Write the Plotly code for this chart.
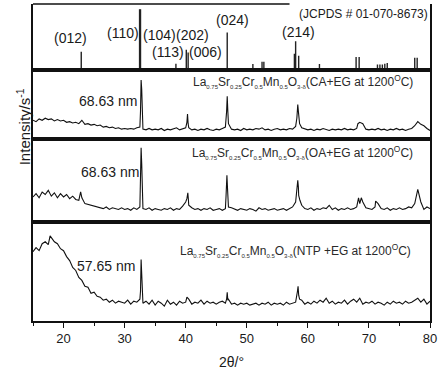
import numpy as np
import plotly.graph_objects as go
from plotly.subplots import make_subplots

# ---------------- data ----------------
# JCPDS # 01-070-8673 reference sticks (2theta, relative intensity 0-100)
jcpds_pos = [22.9, 32.45, 32.6, 38.4, 40.1, 40.4, 46.8, 51.0, 52.5, 52.8, 57.8, 58.0, 58.5,
             61.9, 67.9, 68.4, 71.4, 71.8, 72.2, 72.6, 73.0, 77.5, 77.9]
jcpds_int = [28, 92, 92, 10, 31, 27, 57, 9.5, 13, 13, 25, 44, 22,
             9.5, 20, 20, 9, 9, 9, 10, 11, 19, 19]

hkl_labels = ["(012)", "(110)", "(104)", "(202)", "(113)", "(006)", "(024)", "(214)"]
hkl_x = [21.2, 29.8, 35.65, 41.1, 37.1, 43.2, 47.7, 58.5]
hkl_y = [49, 57, 54, 54, 28, 28, 76, 58]

# background scan, 15-80 deg, 0.5 deg step
scan_x = [15 + 0.5 * i for i in range(131)]

ca_bg = [27, 25, 29, 27, 30, 28, 29, 26, 28, 26,
         27, 24, 25, 23, 24, 22, 27, 21, 22, 20,
         21, 19, 20, 17, 18, 16, 17, 15, 16, 14,
         15, 14, 15, 14, 16, 17, 14, 13, 15, 13,
         14, 13, 15, 12, 14, 13, 14, 16, 13, 14,
         16, 16, 13, 14, 12, 14, 13, 15, 13, 12,
         14, 13, 15, 17, 22, 14, 13, 14, 12, 15,
         13, 14, 13, 15, 14, 16, 13, 14, 12, 14,
         15, 13, 14, 13, 15, 14, 18, 34, 16, 14,
         13, 14, 12, 14, 13, 15, 13, 12, 14, 13,
         14, 13, 15, 13, 14, 13, 15, 24, 22, 14,
         13, 14, 13, 15, 13, 14, 12, 14, 13, 15,
         13, 14, 12, 14, 15, 19, 25, 21, 19, 15,
         12]
ca_pk_x = [32.6, 32.7, 32.8, 32.9, 40.2, 40.3, 40.4, 46.7, 46.8, 46.9,
           58.2, 58.35, 58.45, 58.65, 68.2, 68.8]
ca_pk_y = [40, 86, 72, 25, 24, 36, 22, 40, 62, 40,
           30, 50, 40, 22, 22, 23]

oa_bg = [30, 34, 29, 36, 33, 38, 31, 35, 29, 34,
         30, 33, 28, 31, 27, 26, 29, 22, 21, 20,
         19, 18, 17, 16, 18, 15, 17, 16, 15, 17,
         15, 16, 14, 17, 15, 18, 16, 15, 17, 14,
         16, 15, 14, 16, 15, 17, 14, 16, 15, 19,
         24, 20, 17, 15, 16, 14, 16, 15, 17, 14,
         15, 16, 14, 16, 18, 17, 15, 14, 16, 15,
         14, 16, 15, 13, 17, 15, 16, 14, 15, 16,
         14, 15, 16, 14, 16, 18, 24, 32, 20, 16,
         15, 17, 14, 16, 15, 17, 16, 20, 15, 17,
         14, 16, 15, 17, 15, 16, 18, 22, 24, 17,
         16, 15, 18, 22, 16, 15, 17, 14, 16, 15,
         17, 15, 16, 18, 17, 22, 39, 24, 15, 18,
         16]
oa_pk_x = [22.8, 32.6, 32.7, 32.8, 32.9, 40.2, 40.35, 40.45, 46.6, 46.75, 46.85, 46.95,
           58.2, 58.35, 58.45, 58.7, 68.3, 68.75, 71.1]
oa_pk_y = [36, 45, 89, 70, 22, 28, 35, 26, 30, 56, 40, 22,
           35, 50, 42, 26, 29, 29, 25]

ntp_bg = [70, 74, 71, 78, 80, 77, 84, 80, 78, 73,
          71, 65, 61, 54, 51, 44, 41, 35, 34, 28,
          29, 25, 24, 21, 22, 19, 21, 18, 20, 19,
          18, 21, 17, 20, 19, 22, 18, 20, 17, 21,
          16, 20, 18, 15, 21, 17, 19, 16, 20, 18,
          19, 22, 17, 19, 18, 21, 17, 20, 18, 19,
          17, 19, 20, 18, 22, 17, 18, 16, 18, 17,
          18, 16, 17, 18, 16, 18, 17, 19, 16, 18,
          17, 18, 16, 19, 17, 18, 19, 26, 21, 17,
          19, 17, 20, 18, 21, 19, 23, 18, 20, 17,
          19, 18, 21, 17, 20, 22, 19, 23, 17, 19,
          18, 20, 17, 19, 18, 16, 19, 17, 20, 18,
          19, 17, 20, 18, 19, 21, 23, 19, 22, 17,
          20]
ntp_pk_x = [17.8, 32.6, 32.7, 32.8, 32.9, 40.2, 46.7, 46.8, 46.9, 58.3, 58.4, 58.65]
ntp_pk_y = [86, 30, 62, 40, 19, 24, 22, 29, 21, 30, 35, 22]

sizes = ["68.63 nm", "68.63 nm", "57.65 nm"]
samples = ["CA+EG at 1200", "OA+EG at 1200", "NTP +EG at 1200"]


def merge(bx, by, px, py):
    pts = sorted(zip(list(bx) + list(px), list(by) + list(py)))
    return [p[0] for p in pts], [p[1] for p in pts]


# ---------------- figure ----------------
fig = make_subplots(rows=4, cols=1, shared_xaxes=True, vertical_spacing=0,
                    row_heights=[67, 69, 84, 100])

FONT = "Liberation Sans, Arial, sans-serif"
INK = "#1a1a1a"

# sticks
sx, sy = [], []
for p, v in zip(jcpds_pos, jcpds_int):
    sx += [p, p, None]
    sy += [0, v, None]
fig.add_trace(go.Scatter(x=sx, y=sy, mode="lines", line=dict(color="#222", width=1.4),
                         hoverinfo="skip", showlegend=False), row=1, col=1)

series = [(ca_bg, ca_pk_x, ca_pk_y), (oa_bg, oa_pk_x, oa_pk_y), (ntp_bg, ntp_pk_x, ntp_pk_y)]
for i, (bg, pkx, pky) in enumerate(series):
    xx, yy = merge(scan_x, bg, pkx, pky)
    fig.add_trace(go.Scatter(x=xx, y=yy, mode="lines", line=dict(color="#111", width=1.1),
                             showlegend=False), row=i + 2, col=1)

for r in range(1, 5):
    fig.update_yaxes(range=[0, 100], showline=True, mirror=True, linecolor="#111", linewidth=1.5,
                     showticklabels=False, ticks="", showgrid=False, zeroline=False, row=r, col=1)
    fig.update_xaxes(range=[15, 80], showline=True, mirror=(r != 1), linecolor="#111", linewidth=1.5,
                     showgrid=False, zeroline=False, row=r, col=1)
    if r < 4:
        fig.update_xaxes(ticks="", showticklabels=False, row=r, col=1)

fig.update_xaxes(ticks="outside", ticklen=5, tickwidth=1.3, tickcolor="#111", tick0=0, dtick=10,
                 minor=dict(ticks="outside", ticklen=3, tickwidth=1.3, tickcolor="#111", dtick=5),
                 tickfont=dict(family=FONT, size=13, color=INK),
                 title=dict(text="2θ/°", font=dict(family=FONT, size=14, color=INK), standoff=12),
                 row=4, col=1)

# partial top border of top panel (label box covers the rest)
fig.add_shape(type="line", xref="x", yref="y domain", x0=15, x1=57, y0=1, y1=1,
              line=dict(color="#111", width=1.5))

# hkl labels
for t, x, y in zip(hkl_labels, hkl_x, hkl_y):
    fig.add_annotation(x=x, y=y, xref="x", yref="y", text=t, showarrow=False,
                       font=dict(family=FONT, size=14, color=INK))
fig.add_annotation(x=80, y=85, xref="x", yref="y", text="(JCPDS # 01-070-8673)", showarrow=False,
                   xanchor="right", font=dict(family=FONT, size=12, color=INK))

# sample labels
size_pos = [(27.2, 55), (27.6, 60), (26.9, 56)]
form_pos = [(77.5, 83), (77.5, 84), (77.2, 71)]
for i in range(3):
    yr = "y%d" % (i + 2)
    xr = "x%d" % (i + 2)
    fig.add_annotation(x=size_pos[i][0], y=size_pos[i][1], xref=xr, yref=yr, text=sizes[i],
                       showarrow=False, font=dict(family=FONT, size=14, color=INK))
    sub = lambda s: '<sub><span style="font-size:6px">%s</span></sub>' % s
    txt = ("La" + sub("0.75") + "Sr" + sub("0.25") + "Cr" + sub("0.5") + "Mn" + sub("0.5") +
           "O" + sub("3-δ") + "(" + samples[i] + "<sup>O</sup>C)")
    fig.add_annotation(x=form_pos[i][0], y=form_pos[i][1], xref=xr, yref=yr, text=txt,
                       xanchor="right", showarrow=False, font=dict(family=FONT, size=12, color="#2a2a2a"))

fig.add_annotation(x=-0.053, y=0.6125, xref="paper", yref="paper", text="Intensity/s<sup>-1</sup>",
                   textangle=-90, showarrow=False, font=dict(family=FONT, size=15, color=INK))

fig.update_layout(width=445, height=372, margin=dict(l=33, r=15, t=4, b=48),
                  paper_bgcolor="white", plot_bgcolor="white", showlegend=False)

fig.write_html("out.html", config={"displayModeBar": False})
